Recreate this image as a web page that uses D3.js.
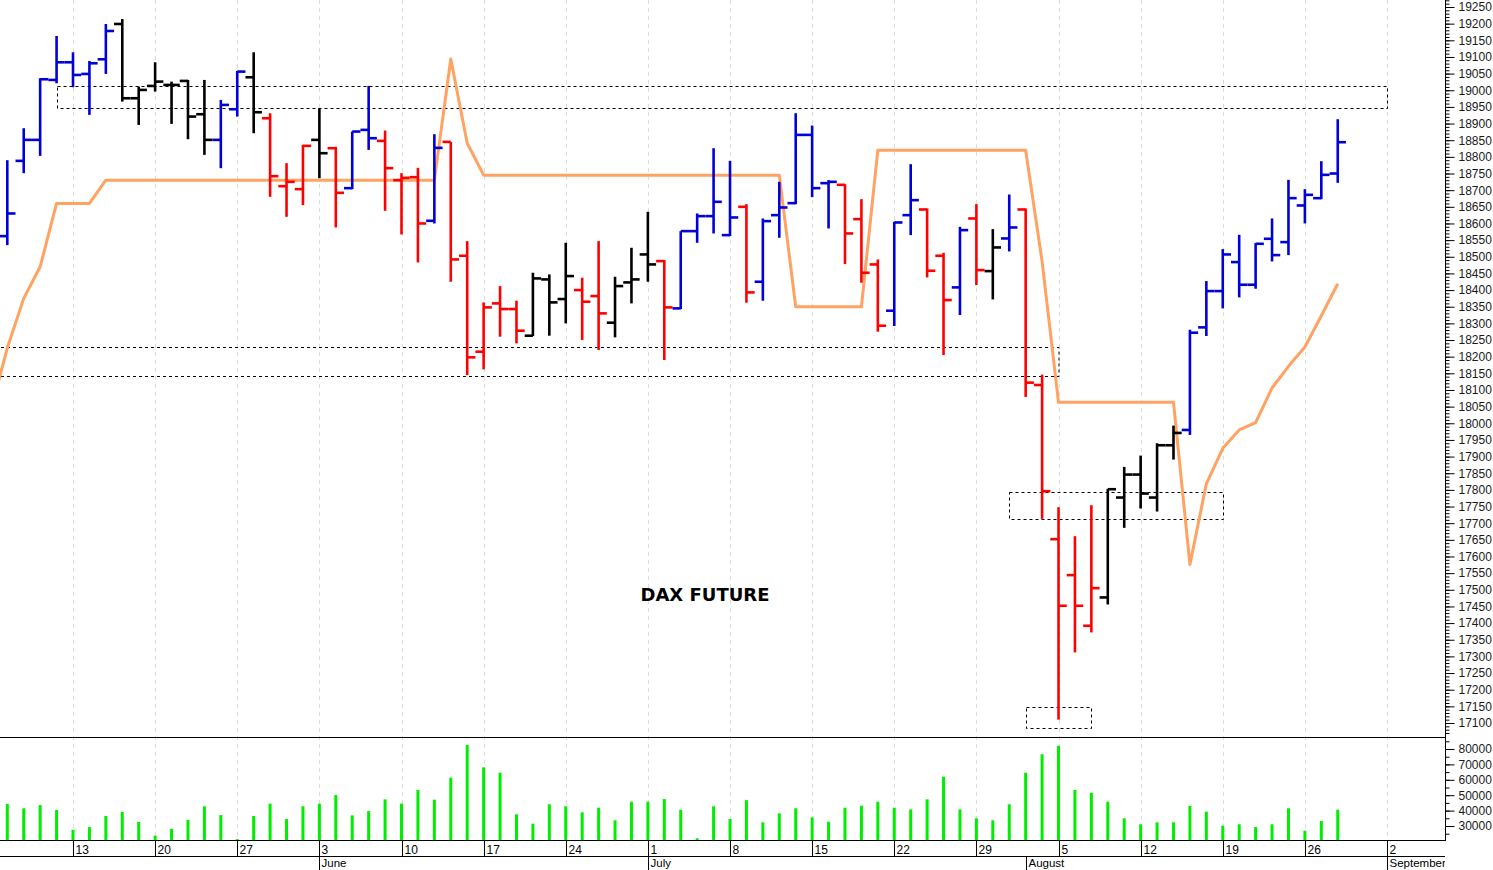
<!DOCTYPE html>
<html><head><meta charset="utf-8">
<script src="https://cdn.jsdelivr.net/npm/d3@7/dist/d3.min.js"></script>
<style>body{margin:0;background:#fff}svg{display:block}</style>
</head><body>
<svg id="c" width="1493" height="870"></svg>
<script>
// ---------- DATA ----------
// trading days shown on the axis (categories): weekdays from 2024-05-07 through 2024-09-04
const firstDay = "2024-05-07", lastDay = "2024-09-04";
const title = "DAX FUTURE";
const open  = [18562,18788,18851,19031,19084,19049,19093,19199,18976,19013,19016,19028,18928,18851,18943,19039,18916,18712,18703,18851,18826,18706,18881,18848,18730,18739,18608,18845,18503,18215,18360,18343,18263,18432,18373,18400,18382,18302,18423,18507,18487,18345,18577,18622,18565,18650,18425,18625,18661,18866,18721,18716,18613,18477,18338,18625,18642,18503,18408,18615,18457,18555,18642,18115,17652,17544,17392,17477,17777,17846,17777,17934,17980,18288,18397,18484,18416,18554,18544,18654,18676,18750];
const high  = [18790,18886,19036,19163,19114,19088,19199,19214,19011,19084,19026,19031,19031,18971,19058,19114,18931,18781,18836,18946,18830,18876,19013,18879,18751,18767,18868,18845,18547,18363,18412,18368,18452,18447,18542,18437,18547,18440,18527,18635,18490,18577,18630,18826,18788,18658,18615,18725,18931,18894,18730,18718,18673,18492,18605,18778,18645,18512,18590,18658,18583,18687,18645,18146,17748,17661,17754,17803,17869,17903,17940,17993,18281,18427,18523,18566,18541,18615,18731,18703,18787,18913];
const low   = [18535,18751,18803,19021,19009,18926,19049,18966,18896,18996,18899,18853,18806,18766,18921,18871,18680,18620,18655,18736,18588,18703,18821,18638,18567,18483,18600,18425,18145,18162,18260,18240,18262,18263,18300,18250,18220,18258,18360,18425,18190,18343,18542,18570,18562,18362,18368,18557,18658,18679,18585,18478,18422,18275,18292,18565,18438,18205,18325,18415,18372,18516,18079,17713,17110,17312,17372,17456,17686,17744,17735,17891,17965,18262,18345,18378,18404,18486,18505,18600,18673,18722];
const close = [18630,18851,19033,19084,19046,19081,19178,18976,19001,19026,19016,18921,18851,18956,19056,18934,18742,18725,18833,18811,18692,18876,18856,18766,18737,18600,18827,18492,18198,18348,18343,18278,18435,18363,18442,18365,18330,18412,18432,18477,18348,18577,18622,18665,18618,18393,18607,18648,18866,18706,18725,18570,18452,18293,18603,18670,18458,18370,18580,18460,18528,18588,18122,17796,17452,17452,17505,17802,17846,17789,17934,17971,18272,18397,18507,18416,18539,18505,18676,18686,18746,18844];
// bar state: U = up (blue), D = down (red), N = neutral (black)
const state = "UUUUUUUNNNNNNUUNDDDNDUUDDDUDDDDDNNNDDNNNDUUUUDUUUUUDDDUUDDUDNUDDDDDNNNNNUUUUUUUUUU".split("");
const volume = [44300,41500,43600,40400,27600,29300,36500,39100,32600,23700,28200,33900,42800,37100,21500,36500,44500,34500,42800,44500,50100,36900,39700,47300,44500,53400,47100,61400,82600,68100,64600,37600,31500,44100,42800,38900,41900,33700,45800,45800,47500,40600,22000,42800,34500,46800,32400,38200,41500,35600,32800,41900,43200,45800,41900,40800,47300,62000,40800,35000,33700,44100,64600,76600,82100,53400,51600,45800,35000,31100,32400,32400,43000,39300,30200,31100,29300,31100,41500,26900,33200,40600];
// orange trend line: value of the previous session (2024-05-06) then one value per bar
const trendPrev = 18040;
const trend = [18226,18375,18470,18660,18660,18660,18730,18730,18730,18730,18730,18730,18730,18730,18730,18730,18730,18730,18730,18730,18730,18730,18730,18730,18730,18730,18730,19094,18841,18745,18745,18745,18745,18745,18745,18745,18745,18745,18745,18745,18745,18745,18745,18745,18745,18745,18745,18745,18350,18350,18350,18350,18350,18820,18820,18820,18820,18820,18820,18820,18820,18820,18820,18486,18063,18063,18063,18063,18063,18063,18063,18063,17576,17818,17925,17980,18002,18106,18171,18229,18323,18419];
// dotted zones: [from date (null = chart start), to date, low price, high price]
const zones = [
  ["2024-05-10","2024-09-02",18946,19014],
  [null,"2024-08-05",18142,18228],
  ["2024-07-31","2024-08-19",17713,17793],
  ["2024-08-01","2024-08-07",17084,17149]
];
const weekTicks = ["2024-05-13","2024-05-20","2024-05-27","2024-06-03","2024-06-10","2024-06-17","2024-06-24","2024-07-01","2024-07-08","2024-07-15","2024-07-22","2024-07-29","2024-08-05","2024-08-12","2024-08-19","2024-08-26","2024-09-02"];
const monthTicks = [["2024-06-03","June"],["2024-07-01","July"],["2024-08-01","August"],["2024-09-02","September"]];
const priceTicks = d3.range(17100, 19251, 50);
const volTicks = [30000,40000,50000,60000,70000,80000];

// ---------- LAYOUT ----------
const PW = 1445, PB = 737, VB = 840;
const parse = d3.utcParse("%Y-%m-%d");
const days = d3.utcDays(parse(firstDay), d3.utcDay.offset(parse(lastDay),1)).filter(d => d.getUTCDay() % 6 !== 0);
const idx = new Map(days.map((d,i)=>[+d,i]));
const di = s => idx.get(+parse(s));
const x = d3.scaleLinear().domain([-0.4444, 87.53]).range([0, PW]);
const step = x(1) - x(0);
const yP = d3.scaleLinear().domain([17100, 19250]).range([723, 7]);
const yV = d3.scaleLinear().domain([30000, 80000]).range([826, 749]);
const colors = {U:"#0000d8", D:"#ff0000", N:"#000000"};
const font = "'Liberation Sans', Arial, sans-serif";

const svg = d3.select("#c");
svg.append("rect").attr("width",1493).attr("height",870).attr("fill","#fff");
const defs = svg.append("defs");
defs.append("clipPath").attr("id","cp").append("rect").attr("x",0).attr("y",0).attr("width",PW).attr("height",PB);
defs.append("clipPath").attr("id","cv").append("rect").attr("x",0).attr("y",PB).attr("width",PW).attr("height",VB-PB);
defs.append("clipPath").attr("id","cx").append("rect").attr("x",0).attr("y",VB).attr("width",PW).attr("height",870-VB);

// gridlines
svg.append("g").selectAll("line").data(weekTicks).join("line")
  .attr("x1", d=>Math.round(x(di(d)))+0.5).attr("x2", d=>Math.round(x(di(d)))+0.5)
  .attr("y1",0).attr("y2",VB).attr("stroke","#dcdcdc").attr("stroke-dasharray","4,4");

const gp = svg.append("g").attr("clip-path","url(#cp)");

// zones
gp.append("g").selectAll("rect").data(zones).join("rect")
  .attr("x", d => d[0] ? Math.round(x(di(d[0])))+0.5 : -5)
  .attr("width", d => Math.round(x(di(d[1]))) - (d[0] ? Math.round(x(di(d[0]))) : -5))
  .attr("y", d => Math.round(yP(d[3]))+0.5)
  .attr("height", d => Math.round(yP(d[2])) - Math.round(yP(d[3])))
  .attr("fill","none").attr("stroke","#000").attr("stroke-width",1).attr("stroke-dasharray","3,3");

// trend line
const tpts = [[-1, trendPrev]].concat(trend.map((v,i)=>[i,v]));
gp.append("path").datum(tpts)
  .attr("d", d3.line().x(d=>x(d[0])).y(d=>yP(d[1])))
  .attr("fill","none").attr("stroke","#ffa262").attr("stroke-width",3).attr("stroke-linejoin","round");

// OHLC bars
const bars = open.map((o,i)=>({i, o, h:high[i], l:low[i], c:close[i], s:state[i]}));
const tl = step*0.5;
const bg = gp.append("g").selectAll("g").data(bars).join("g")
  .attr("stroke", d=>colors[d.s]).attr("stroke-width",2.6);
bg.append("line").attr("x1",d=>x(d.i)).attr("x2",d=>x(d.i)).attr("y1",d=>yP(d.h)).attr("y2",d=>yP(d.l));
bg.append("line").attr("x1",d=>x(d.i)-tl).attr("x2",d=>x(d.i)).attr("y1",d=>yP(d.o)).attr("y2",d=>yP(d.o));
bg.append("line").attr("x1",d=>x(d.i)).attr("x2",d=>x(d.i)+tl).attr("y1",d=>yP(d.c)).attr("y2",d=>yP(d.c));

// title
svg.append("text").attr("x",705).attr("y",596).attr("text-anchor","middle").attr("dominant-baseline","middle")
  .attr("font-family","'DejaVu Sans', Verdana, sans-serif").attr("font-weight","bold").attr("font-size",18)
  .attr("fill","#000").text(title);

// volume
svg.append("g").attr("clip-path","url(#cv)").selectAll("line").data(volume).join("line")
  .attr("x1",(d,i)=>x(i)).attr("x2",(d,i)=>x(i)).attr("y1",VB).attr("y2",d=>yV(d))
  .attr("stroke","#00ee00").attr("stroke-width",3);

// frame lines
const fr = svg.append("g").attr("stroke","#000").attr("stroke-width",1);
fr.append("line").attr("x1",0).attr("x2",PW).attr("y1",PB+0.5).attr("y2",PB+0.5);
fr.append("line").attr("x1",0).attr("x2",PW).attr("y1",VB+0.5).attr("y2",VB+0.5);
fr.append("line").attr("x1",0).attr("x2",PW).attr("y1",856.5).attr("y2",856.5);
fr.append("line").attr("x1",PW+0.5).attr("x2",PW+0.5).attr("y1",0).attr("y2",VB+1);

// right axes
function styleAxis(g){ g.select(".domain").remove(); g.selectAll("text").attr("font-family",font).attr("font-size",12).attr("fill","#1a1a1a"); g.selectAll("line").attr("stroke","#000"); }
svg.append("g").attr("transform",`translate(${PW+0.5},0)`)
  .call(d3.axisRight(yP).tickValues(d3.range(17070,19271,10)).tickSize(4).tickFormat("")).call(styleAxis);
svg.append("g").attr("transform",`translate(${PW+0.5},0)`)
  .call(d3.axisRight(yP).tickValues(priceTicks).tickSize(9).tickPadding(4).tickFormat(d3.format("d"))).call(styleAxis);
svg.append("g").attr("transform",`translate(${PW+0.5},0)`)
  .call(d3.axisRight(yV).tickValues(d3.range(25000,86000,5000)).tickSize(4).tickFormat("")).call(styleAxis);
svg.append("g").attr("transform",`translate(${PW+0.5},0)`)
  .call(d3.axisRight(yV).tickValues(volTicks).tickSize(9).tickPadding(4).tickFormat(d3.format("d"))).call(styleAxis);

// bottom axis
const gx = svg.append("g").attr("clip-path","url(#cx)");
const fmtDay = d3.utcFormat("%-d");
gx.selectAll("line.w").data(weekTicks).join("line")
  .attr("x1",d=>Math.round(x(di(d)))+0.5).attr("x2",d=>Math.round(x(di(d)))+0.5).attr("y1",VB).attr("y2",856.5).attr("stroke","#000");
gx.selectAll("text.w").data(weekTicks).join("text")
  .attr("x",d=>Math.round(x(di(d)))+2.5).attr("y",854).attr("font-family",font).attr("font-size",12).attr("fill","#000")
  .text(d=>fmtDay(parse(d)));
gx.selectAll("line.m").data(monthTicks).join("line")
  .attr("x1",d=>Math.round(x(di(d[0])))+0.5).attr("x2",d=>Math.round(x(di(d[0])))+0.5).attr("y1",856).attr("y2",870).attr("stroke","#000");
gx.selectAll("text.m").data(monthTicks).join("text")
  .attr("x",d=>Math.round(x(di(d[0])))+2.5).attr("y",866.5).attr("font-family",font).attr("font-size",11.5).attr("fill","#000")
  .text(d=>d[1]);
</script>
</body></html>
